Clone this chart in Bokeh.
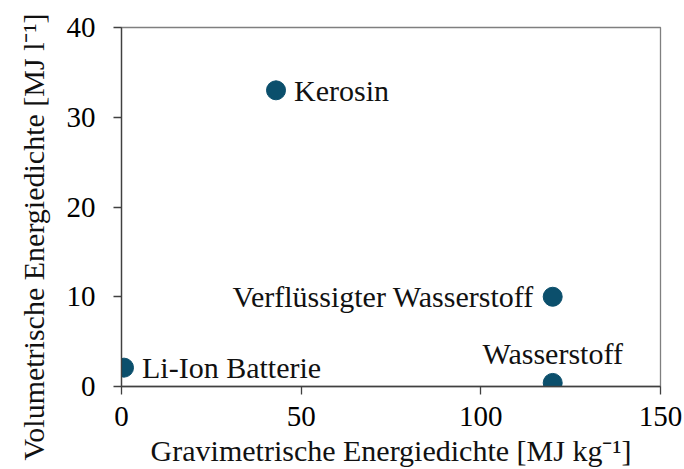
from bokeh.plotting import figure
from bokeh.models import ColumnDataSource, Range1d, FixedTicker, Title
from bokeh.core.properties import value
from bokeh.embed import file_html
from bokeh.resources import INLINE

# ---- data ----
names = ["Kerosin", "Verflüssigter Wasserstoff", "Wasserstoff", "Li-Ion Batterie"]
grav = [43, 120, 120, 0.7]      # MJ/kg
vol = [33, 10, 0.4, 2.1]        # MJ/l
x_ticks = [0, 50, 100, 150]
y_ticks = [0, 10, 20, 30, 40]
x_title = "Gravimetrische Energiedichte [MJ kg\u207b\u00b9]"
y_title = "Volumetrische Energiedichte [MJ l\u207b\u00b9]"

# ---- label placement (style, not data) ----
placement = {
    "Kerosin": ("left", "middle", 18, 0),
    "Verflüssigter Wasserstoff": ("right", "middle", -19, 0),
    "Wasserstoff": ("center", "alphabetic", 0, -29),
    "Li-Ion Batterie": ("left", "middle", 18, 0),
}

FONT = "Liberation Serif"
DOT = "#0B4F6C"

src = ColumnDataSource(dict(
    x=grav, y=vol, name=names,
    align=[placement[n][0] for n in names],
    base=[placement[n][1] for n in names],
    xo=[placement[n][2] for n in names],
    yo=[placement[n][3] for n in names],
))

p = figure(width=684, height=469, output_backend="svg", toolbar_location=None,
           x_range=Range1d(0, 150), y_range=Range1d(0, 40),
           min_border_left=121, min_border_right=24, min_border_top=27,
           min_border_bottom=83)
p.grid.visible = False
p.background_fill_color = "white"
p.border_fill_color = "white"
p.outline_line_color = "#7f7f7f"
p.outline_line_width = 1.3

for ax, ticks in ((p.xaxis[0], x_ticks), (p.yaxis[0], y_ticks)):
    ax.ticker = FixedTicker(ticks=ticks)
    ax.minor_tick_line_color = None
    ax.major_tick_in = 0
    ax.major_tick_out = 8
    ax.axis_line_color = "#404040"
    ax.axis_line_width = 1.3
    ax.major_tick_line_color = "#404040"
    ax.major_tick_line_width = 1.3
    ax.major_label_text_font = FONT
    ax.major_label_text_font_size = "29px"
    ax.major_label_text_color = "#000000"
p.xaxis.major_label_standoff = 12
p.yaxis.major_label_standoff = 18

p.xaxis.axis_label = x_title
p.xaxis.axis_label_text_font = FONT
p.xaxis.axis_label_text_font_size = "30px"
p.xaxis.axis_label_text_font_style = "normal"
p.xaxis.axis_label_text_color = "#111111"
p.xaxis.axis_label_standoff = 5

p.add_layout(Title(text=y_title, align="left", offset=-74, standoff=28,
                   text_font=FONT, text_font_size="30px",
                   text_font_style="normal", text_color="#111111"), "left")

p.scatter("x", "y", source=src, size=19, fill_color=DOT, line_color=DOT)
p.text("x", "y", text="name", source=src, text_align="align",
       text_baseline="base", x_offset="xo", y_offset="yo",
       text_font=value(FONT), text_font_size="30px", text_color="#111111")

open("out.html", "w").write(file_html(p, INLINE))
